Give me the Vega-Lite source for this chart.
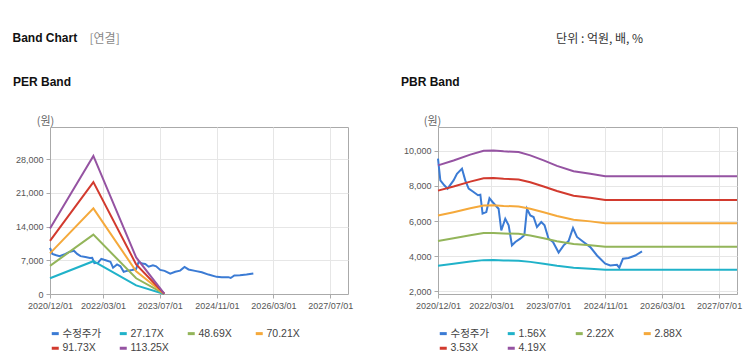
{
  "$schema": "https://vega.github.io/schema/vega-lite/v6.json",
  "background": "white",
  "padding": {"left": 12, "top": 31, "right": 5, "bottom": 10},
  "config": {
    "font": "Liberation Sans",
    "view": {"stroke": "#aaaaaa"},
    "axis": {"labelFont": "Liberation Sans", "labelFontSize": 9, "labelColor": "#555555", "gridColor": "#e6e6e6", "domainColor": "#aaaaaa", "tickColor": "#aaaaaa", "tickSize": 4, "labelPadding": 3},
    "legend": {"orient": "bottom", "direction": "horizontal", "columns": 4, "symbolType": "stroke", "symbolStrokeWidth": 3, "symbolSize": 49, "labelFont": "Liberation Sans, Noto Sans CJK KR", "labelFontSize": 10.5, "labelColor": "#444444", "columnPadding": 11, "rowPadding": 2, "offset": 18, "gridAlign": "all", "labelOffset": 2, "padding": 0},
    "title": {"font": "Liberation Sans", "color": "#111111"}
  },
  "datasets": {
    "per": [
      {"d": "2020-12-01", "s": "수정주가", "v": 9560}, {"d": "2020-12-21", "s": "수정주가", "v": 8320}, {"d": "2021-01-24", "s": "수정주가", "v": 8040}, {"d": "2021-02-21", "s": "수정주가", "v": 7850}, {"d": "2021-04-13", "s": "수정주가", "v": 8320}, {"d": "2021-05-12", "s": "수정주가", "v": 8700}, {"d": "2021-06-24", "s": "수정주가", "v": 8990}, {"d": "2021-07-22", "s": "수정주가", "v": 8320}, {"d": "2021-08-20", "s": "수정주가", "v": 7850}, {"d": "2021-10-01", "s": "수정주가", "v": 7660}, {"d": "2021-11-08", "s": "수정주가", "v": 7470}, {"d": "2021-11-28", "s": "수정주가", "v": 7500}, {"d": "2021-12-17", "s": "수정주가", "v": 6420}, {"d": "2022-01-18", "s": "수정주가", "v": 6510}, {"d": "2022-02-14", "s": "수정주가", "v": 7300}, {"d": "2022-03-10", "s": "수정주가", "v": 7100}, {"d": "2022-05-03", "s": "수정주가", "v": 6700}, {"d": "2022-05-26", "s": "수정주가", "v": 5460}, {"d": "2022-06-29", "s": "수정주가", "v": 6130}, {"d": "2022-07-28", "s": "수정주가", "v": 5750}, {"d": "2022-08-25", "s": "수정주가", "v": 4610}, {"d": "2022-09-23", "s": "수정주가", "v": 4800}, {"d": "2022-11-04", "s": "수정주가", "v": 4990}, {"d": "2022-12-09", "s": "수정주가", "v": 5180}, {"d": "2023-01-01", "s": "수정주가", "v": 6700}, {"d": "2023-01-29", "s": "수정주가", "v": 6320}, {"d": "2023-02-26", "s": "수정주가", "v": 6230}, {"d": "2023-03-27", "s": "수정주가", "v": 5660}, {"d": "2023-05-03", "s": "수정주가", "v": 5940}, {"d": "2023-05-31", "s": "수정주가", "v": 5750}, {"d": "2023-07-04", "s": "수정주가", "v": 4990}, {"d": "2023-08-11", "s": "수정주가", "v": 4800}, {"d": "2023-09-28", "s": "수정주가", "v": 4200}, {"d": "2023-11-10", "s": "수정주가", "v": 4610}, {"d": "2023-12-22", "s": "수정주가", "v": 4850}, {"d": "2024-01-29", "s": "수정주가", "v": 5600}, {"d": "2024-03-03", "s": "수정주가", "v": 5090}, {"d": "2024-04-28", "s": "수정주가", "v": 4800}, {"d": "2024-06-25", "s": "수정주가", "v": 4510}, {"d": "2024-08-21", "s": "수정주가", "v": 4030}, {"d": "2024-10-31", "s": "수정주가", "v": 3560}, {"d": "2024-12-13", "s": "수정주가", "v": 3460}, {"d": "2025-02-08", "s": "수정주가", "v": 3500}, {"d": "2025-02-28", "s": "수정주가", "v": 3330}, {"d": "2025-03-31", "s": "수정주가", "v": 3850}, {"d": "2025-05-18", "s": "수정주가", "v": 3890}, {"d": "2025-07-14", "s": "수정주가", "v": 4030}, {"d": "2025-09-10", "s": "수정주가", "v": 4260},
      {"d": "2020-12-01", "s": "27.17X", "v": 3260}, {"d": "2021-12-08", "s": "27.17X", "v": 6800}, {"d": "2022-12-10", "s": "27.17X", "v": 1780}, {"d": "2023-08-08", "s": "27.17X", "v": 14},
      {"d": "2020-12-01", "s": "48.69X", "v": 5843}, {"d": "2021-12-08", "s": "48.69X", "v": 12319}, {"d": "2022-12-10", "s": "48.69X", "v": 3262}, {"d": "2023-08-08", "s": "48.69X", "v": 24},
      {"d": "2020-12-01", "s": "70.21X", "v": 8425}, {"d": "2021-12-08", "s": "70.21X", "v": 17763}, {"d": "2022-12-10", "s": "70.21X", "v": 4704}, {"d": "2023-08-08", "s": "70.21X", "v": 35},
      {"d": "2020-12-01", "s": "91.73X", "v": 11008}, {"d": "2021-12-08", "s": "91.73X", "v": 23208}, {"d": "2022-12-10", "s": "91.73X", "v": 6146}, {"d": "2023-08-08", "s": "91.73X", "v": 46},
      {"d": "2020-12-01", "s": "113.25X", "v": 13590}, {"d": "2021-12-08", "s": "113.25X", "v": 28652}, {"d": "2022-12-10", "s": "113.25X", "v": 7588}, {"d": "2023-08-08", "s": "113.25X", "v": 57}
    ],
    "pbr": [
      {"d": "2020-12-01", "s": "수정주가", "v": 9560}, {"d": "2020-12-21", "s": "수정주가", "v": 8320}, {"d": "2021-01-24", "s": "수정주가", "v": 8040}, {"d": "2021-02-21", "s": "수정주가", "v": 7850}, {"d": "2021-04-13", "s": "수정주가", "v": 8320}, {"d": "2021-05-12", "s": "수정주가", "v": 8700}, {"d": "2021-06-24", "s": "수정주가", "v": 8990}, {"d": "2021-07-22", "s": "수정주가", "v": 8320}, {"d": "2021-08-20", "s": "수정주가", "v": 7850}, {"d": "2021-10-01", "s": "수정주가", "v": 7660}, {"d": "2021-11-08", "s": "수정주가", "v": 7470}, {"d": "2021-11-28", "s": "수정주가", "v": 7500}, {"d": "2021-12-17", "s": "수정주가", "v": 6420}, {"d": "2022-01-18", "s": "수정주가", "v": 6510}, {"d": "2022-02-14", "s": "수정주가", "v": 7300}, {"d": "2022-03-10", "s": "수정주가", "v": 7100}, {"d": "2022-05-03", "s": "수정주가", "v": 6700}, {"d": "2022-05-26", "s": "수정주가", "v": 5460}, {"d": "2022-06-29", "s": "수정주가", "v": 6130}, {"d": "2022-07-28", "s": "수정주가", "v": 5750}, {"d": "2022-08-25", "s": "수정주가", "v": 4610}, {"d": "2022-09-23", "s": "수정주가", "v": 4800}, {"d": "2022-11-04", "s": "수정주가", "v": 4990}, {"d": "2022-12-09", "s": "수정주가", "v": 5180}, {"d": "2023-01-01", "s": "수정주가", "v": 6700}, {"d": "2023-01-29", "s": "수정주가", "v": 6320}, {"d": "2023-02-26", "s": "수정주가", "v": 6230}, {"d": "2023-03-27", "s": "수정주가", "v": 5660}, {"d": "2023-05-03", "s": "수정주가", "v": 5940}, {"d": "2023-05-31", "s": "수정주가", "v": 5750}, {"d": "2023-07-04", "s": "수정주가", "v": 4990}, {"d": "2023-08-11", "s": "수정주가", "v": 4800}, {"d": "2023-09-28", "s": "수정주가", "v": 4200}, {"d": "2023-11-10", "s": "수정주가", "v": 4610}, {"d": "2023-12-22", "s": "수정주가", "v": 4850}, {"d": "2024-01-29", "s": "수정주가", "v": 5600}, {"d": "2024-03-03", "s": "수정주가", "v": 5090}, {"d": "2024-04-28", "s": "수정주가", "v": 4800}, {"d": "2024-06-25", "s": "수정주가", "v": 4510}, {"d": "2024-08-21", "s": "수정주가", "v": 4030}, {"d": "2024-10-31", "s": "수정주가", "v": 3560}, {"d": "2024-12-13", "s": "수정주가", "v": 3460}, {"d": "2025-02-08", "s": "수정주가", "v": 3500}, {"d": "2025-02-28", "s": "수정주가", "v": 3330}, {"d": "2025-03-31", "s": "수정주가", "v": 3850}, {"d": "2025-05-18", "s": "수정주가", "v": 3890}, {"d": "2025-07-14", "s": "수정주가", "v": 4030}, {"d": "2025-09-10", "s": "수정주가", "v": 4260},
      {"d": "2020-12-01", "s": "1.56X", "v": 3450}, {"d": "2021-04-13", "s": "1.56X", "v": 3555}, {"d": "2021-09-03", "s": "1.56X", "v": 3680}, {"d": "2021-12-26", "s": "1.56X", "v": 3765}, {"d": "2022-03-21", "s": "1.56X", "v": 3770}, {"d": "2022-06-15", "s": "1.56X", "v": 3750}, {"d": "2022-10-21", "s": "1.56X", "v": 3735}, {"d": "2023-01-29", "s": "1.56X", "v": 3665}, {"d": "2023-05-23", "s": "1.56X", "v": 3555}, {"d": "2023-09-14", "s": "1.56X", "v": 3440}, {"d": "2024-02-03", "s": "1.56X", "v": 3325}, {"d": "2024-06-25", "s": "1.56X", "v": 3270}, {"d": "2024-10-31", "s": "1.56X", "v": 3215}, {"d": "2027-12-01", "s": "1.56X", "v": 3215},
      {"d": "2020-12-01", "s": "2.22X", "v": 4864}, {"d": "2021-04-13", "s": "2.22X", "v": 5013}, {"d": "2021-09-03", "s": "2.22X", "v": 5188}, {"d": "2021-12-26", "s": "2.22X", "v": 5308}, {"d": "2022-03-21", "s": "2.22X", "v": 5315}, {"d": "2022-06-15", "s": "2.22X", "v": 5288}, {"d": "2022-10-21", "s": "2.22X", "v": 5266}, {"d": "2023-01-29", "s": "2.22X", "v": 5166}, {"d": "2023-05-23", "s": "2.22X", "v": 5013}, {"d": "2023-09-14", "s": "2.22X", "v": 4848}, {"d": "2024-02-03", "s": "2.22X", "v": 4684}, {"d": "2024-06-25", "s": "2.22X", "v": 4609}, {"d": "2024-10-31", "s": "2.22X", "v": 4531}, {"d": "2027-12-01", "s": "2.22X", "v": 4531},
      {"d": "2020-12-01", "s": "2.88X", "v": 6310}, {"d": "2021-04-13", "s": "2.88X", "v": 6503}, {"d": "2021-09-03", "s": "2.88X", "v": 6731}, {"d": "2021-12-26", "s": "2.88X", "v": 6886}, {"d": "2022-03-21", "s": "2.88X", "v": 6895}, {"d": "2022-06-15", "s": "2.88X", "v": 6860}, {"d": "2022-10-21", "s": "2.88X", "v": 6831}, {"d": "2023-01-29", "s": "2.88X", "v": 6702}, {"d": "2023-05-23", "s": "2.88X", "v": 6503}, {"d": "2023-09-14", "s": "2.88X", "v": 6290}, {"d": "2024-02-03", "s": "2.88X", "v": 6077}, {"d": "2024-06-25", "s": "2.88X", "v": 5979}, {"d": "2024-10-31", "s": "2.88X", "v": 5878}, {"d": "2027-12-01", "s": "2.88X", "v": 5878},
      {"d": "2020-12-01", "s": "3.53X", "v": 7734}, {"d": "2021-04-13", "s": "3.53X", "v": 7971}, {"d": "2021-09-03", "s": "3.53X", "v": 8250}, {"d": "2021-12-26", "s": "3.53X", "v": 8440}, {"d": "2022-03-21", "s": "3.53X", "v": 8451}, {"d": "2022-06-15", "s": "3.53X", "v": 8408}, {"d": "2022-10-21", "s": "3.53X", "v": 8373}, {"d": "2023-01-29", "s": "3.53X", "v": 8214}, {"d": "2023-05-23", "s": "3.53X", "v": 7971}, {"d": "2023-09-14", "s": "3.53X", "v": 7710}, {"d": "2024-02-03", "s": "3.53X", "v": 7448}, {"d": "2024-06-25", "s": "3.53X", "v": 7328}, {"d": "2024-10-31", "s": "3.53X", "v": 7205}, {"d": "2027-12-01", "s": "3.53X", "v": 7205},
      {"d": "2020-12-01", "s": "4.19X", "v": 9180}, {"d": "2021-04-13", "s": "4.19X", "v": 9460}, {"d": "2021-09-03", "s": "4.19X", "v": 9792}, {"d": "2021-12-26", "s": "4.19X", "v": 10018}, {"d": "2022-03-21", "s": "4.19X", "v": 10031}, {"d": "2022-06-15", "s": "4.19X", "v": 9981}, {"d": "2022-10-21", "s": "4.19X", "v": 9939}, {"d": "2023-01-29", "s": "4.19X", "v": 9750}, {"d": "2023-05-23", "s": "4.19X", "v": 9461}, {"d": "2023-09-14", "s": "4.19X", "v": 9151}, {"d": "2024-02-03", "s": "4.19X", "v": 8841}, {"d": "2024-06-25", "s": "4.19X", "v": 8698}, {"d": "2024-10-31", "s": "4.19X", "v": 8552}, {"d": "2027-12-01", "s": "4.19X", "v": 8552}
    ]
  },
  "title": {"text": "[연결]", "anchor": "start", "dx": 77, "dy": 14, "offset": 0, "font": "Noto Sans CJK KR", "fontSize": 12, "fontWeight": "normal", "color": "#888888"},
  "vconcat": [
    {
      "title": {"text": "단위 : 억원, 배, %", "anchor": "end", "dx": -99, "dy": 14, "offset": 0, "font": "Noto Sans CJK KR", "fontSize": 12, "fontWeight": "normal", "color": "#333333"},
      "vconcat": [
        {
          "title": {"text": "Band Chart", "anchor": "start", "offset": 31, "fontSize": 12, "fontWeight": "bold", "color": "#111111"},
          "spacing": 46,
          "resolve": {"scale": {"color": "independent"}, "legend": {"color": "independent"}},
          "hconcat": [
            {
              "title": {"text": "PER Band", "anchor": "start", "frame": "group", "dx": -37, "offset": 26, "fontSize": 12, "fontWeight": "bold", "color": "#111111"},
              "width": 298,
              "height": 167,
              "data": {"name": "per"},
              "mark": {"type": "line", "strokeWidth": 2},
              "encoding": {
                "x": {"field": "d", "type": "temporal",
                  "scale": {"type": "utc", "domain": [{"year": 2020, "month": 12, "date": 1, "utc": true}, {"year": 2027, "month": 12, "date": 1, "utc": true}]},
                  "axis": {"title": null, "format": "%Y/%m/%d", "labelFlush": false, "labelOverlap": false,
                    "values": [{"year": 2020, "month": 12, "date": 1, "utc": true}, {"year": 2022, "month": 3, "date": 1, "utc": true}, {"year": 2023, "month": 7, "date": 1, "utc": true}, {"year": 2024, "month": 11, "date": 1, "utc": true}, {"year": 2026, "month": 3, "date": 1, "utc": true}, {"year": 2027, "month": 7, "date": 1, "utc": true}]}},
                "y": {"field": "v", "type": "quantitative",
                  "scale": {"domain": [0, 34650], "nice": false, "zero": false},
                  "axis": {"title": "(원)", "values": [0, 7000, 14000, 21000, 28000], "format": ",.0f", "titleAngle": 0, "titleX": -5, "titleY": -6, "titleAlign": "center", "titleBaseline": "middle", "titleFont": "Noto Sans CJK KR", "titleFontSize": 11, "titleFontWeight": "normal", "titleColor": "#666666"}},
                "color": {"field": "s", "type": "nominal",
                  "scale": {"domain": ["수정주가", "27.17X", "48.69X", "70.21X", "91.73X", "113.25X"], "range": ["#3b7bd4", "#20b2c9", "#93b55a", "#f5a93b", "#d23a2e", "#9553a2"]},
                  "legend": {"title": null}}
              }
            },
            {
              "title": {"text": "PBR Band", "anchor": "start", "frame": "group", "dx": -37, "offset": 26, "fontSize": 12, "fontWeight": "bold", "color": "#111111"},
              "width": 299,
              "height": 167,
              "data": {"name": "pbr"},
              "mark": {"type": "line", "strokeWidth": 2},
              "encoding": {
                "x": {"field": "d", "type": "temporal",
                  "scale": {"type": "utc", "domain": [{"year": 2020, "month": 12, "date": 1, "utc": true}, {"year": 2027, "month": 12, "date": 1, "utc": true}]},
                  "axis": {"title": null, "format": "%Y/%m/%d", "labelFlush": false, "labelOverlap": false,
                    "values": [{"year": 2020, "month": 12, "date": 1, "utc": true}, {"year": 2022, "month": 3, "date": 1, "utc": true}, {"year": 2023, "month": 7, "date": 1, "utc": true}, {"year": 2024, "month": 11, "date": 1, "utc": true}, {"year": 2026, "month": 3, "date": 1, "utc": true}, {"year": 2027, "month": 7, "date": 1, "utc": true}]}},
                "y": {"field": "v", "type": "quantitative",
                  "scale": {"domain": [1830, 11370], "nice": false, "zero": false},
                  "axis": {"title": "(원)", "values": [2000, 4000, 6000, 8000, 10000], "format": ",.0f", "titleAngle": 0, "titleX": -6, "titleY": -6, "titleAlign": "center", "titleBaseline": "middle", "titleFont": "Noto Sans CJK KR", "titleFontSize": 11, "titleFontWeight": "normal", "titleColor": "#666666"}},
                "color": {"field": "s", "type": "nominal",
                  "scale": {"domain": ["수정주가", "1.56X", "2.22X", "2.88X", "3.53X", "4.19X"], "range": ["#3b7bd4", "#20b2c9", "#93b55a", "#f5a93b", "#d23a2e", "#9553a2"]},
                  "legend": {"title": null}}
              }
            }
          ]
        }
      ]
    }
  ]
}
